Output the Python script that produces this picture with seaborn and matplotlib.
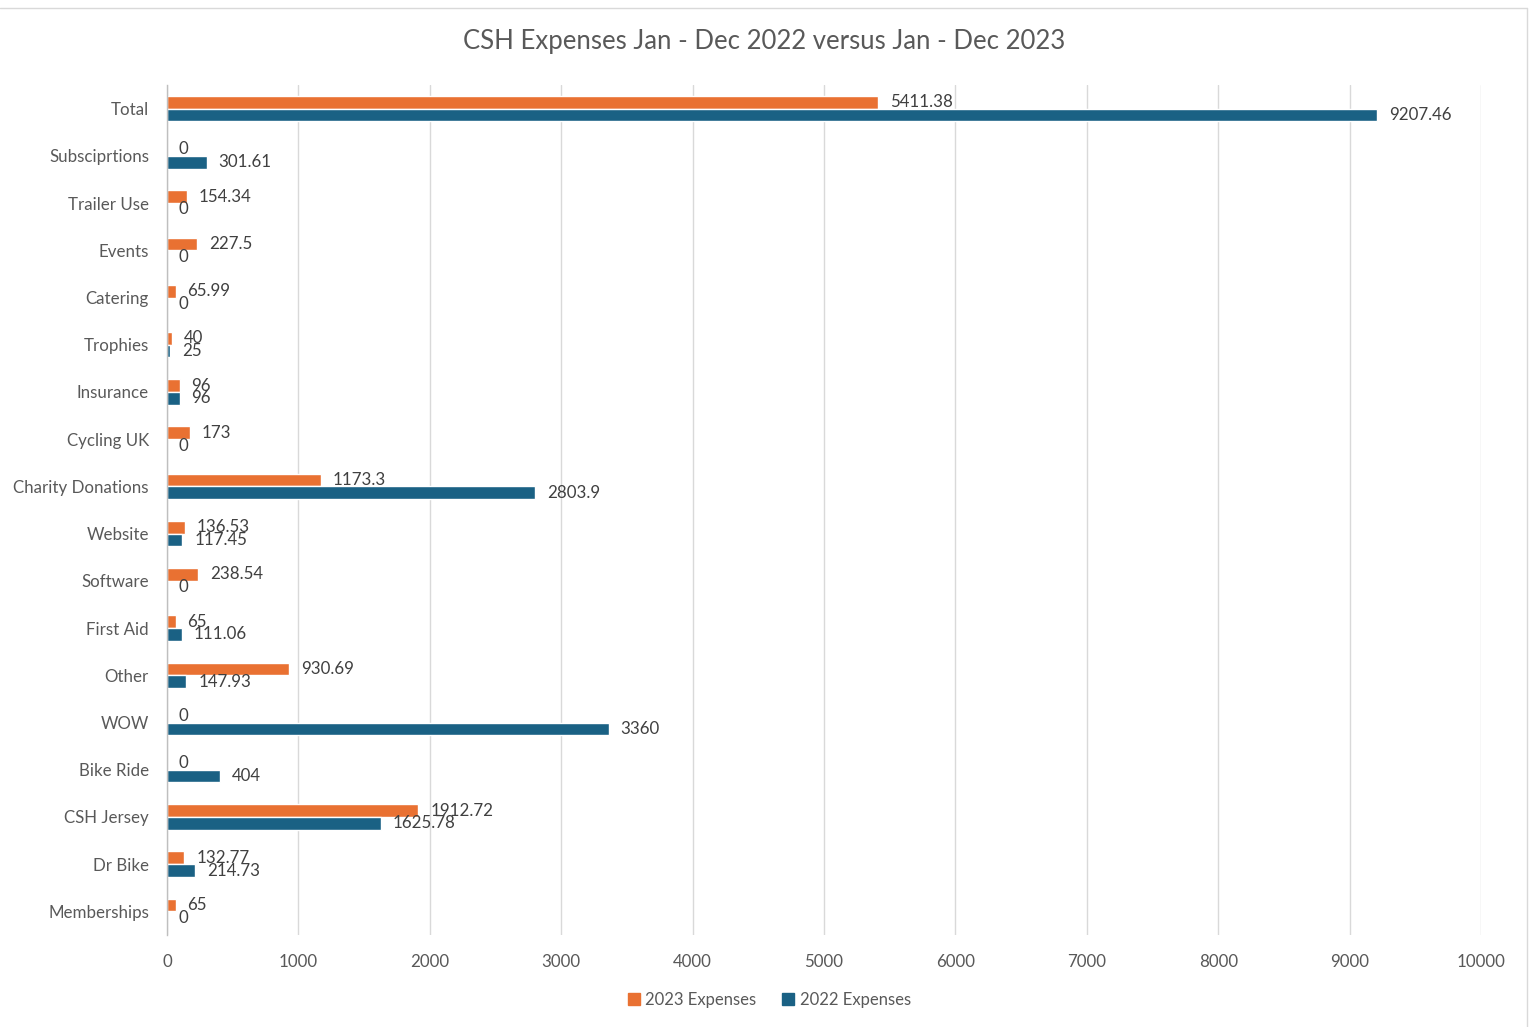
import matplotlib
matplotlib.use("Agg")
import matplotlib.pyplot as plt
import seaborn as sns
import pandas as pd
from matplotlib.lines import Line2D

categories = ["Total", "Subsciprtions", "Trailer Use", "Events", "Catering", "Trophies",
              "Insurance", "Cycling UK", "Charity Donations", "Website", "Software",
              "First Aid", "Other", "WOW", "Bike Ride", "CSH Jersey", "Dr Bike", "Memberships"]
exp_2023 = [5411.38, 0, 154.34, 227.5, 65.99, 40, 96, 173, 1173.3, 136.53, 238.54,
            65, 930.69, 0, 0, 1912.72, 132.77, 65]
exp_2022 = [9207.46, 301.61, 0, 0, 0, 25, 96, 0, 2803.9, 117.45, 0,
            111.06, 147.93, 3360, 404, 1625.78, 214.73, 0]
series_names = ["2023 Expenses", "2022 Expenses"]
colors = ["#E97132", "#1A6184"]
x_ticks = [0, 1000, 2000, 3000, 4000, 5000, 6000, 7000, 8000, 9000, 10000]

df = pd.DataFrame({
    "Category": categories * 2,
    "Value": exp_2023 + exp_2022,
    "Series": [series_names[0]] * len(categories) + [series_names[1]] * len(categories),
})

sns.set_theme(style="white")
plt.rcParams["font.family"] = ["Lato", "DejaVu Sans"]
txt = "#595959"

fig = plt.figure(figsize=(15.29, 10.27), dpi=100)
ax = fig.add_axes([167 / 1529, 1 - 935 / 1027, (1481 - 167) / 1529, (935 - 85) / 1027])

sns.barplot(data=df, x="Value", y="Category", hue="Series", hue_order=series_names,
            order=categories, palette=colors, orient="h", width=0.54, saturation=1,
            ax=ax, legend=False)

for cont in ax.containers:
    ax.bar_label(cont, labels=[f"{v:g}" for v in cont.datavalues], padding=8.5,
                 fontsize=12.2, color="#404040")

ax.set_xlim(0, 10000)
ax.set_xticks(x_ticks)
ax.set_xticklabels([str(t) for t in x_ticks])
ax.set_xlabel("")
ax.set_ylabel("")
ax.tick_params(axis="both", length=0, labelsize=12.2, labelcolor=txt)
ax.tick_params(axis="y", pad=13)
ax.tick_params(axis="x", pad=14)
ax.grid(axis="x", color="#D9D9D9", linewidth=1)
ax.set_axisbelow(True)
for s in ["top", "right", "bottom"]:
    ax.spines[s].set_visible(False)
ax.spines["left"].set_color("#BFBFBF")
ax.spines["left"].set_linewidth(1)

fig.text(764 / 1529, 1 - 41 / 1027, "CSH Expenses Jan - Dec 2022 versus Jan - Dec 2023",
         ha="center", va="center", fontsize=18.5, color=txt)

handles = [Line2D([], [], marker="s", linestyle="none", markersize=8,
                  markerfacecolor=c, markeredgecolor=c) for c in colors]
fig.legend(handles, series_names, loc="center", bbox_to_anchor=(768 / 1529, 1 - 1000 / 1027),
           ncol=2, frameon=False, fontsize=12, labelcolor=txt, handletextpad=0.2,
           columnspacing=1.4, handlelength=1.0)

# chart area border
fig.add_artist(Line2D([0, 1527 / 1529], [1 - 8 / 1027, 1 - 8 / 1027], color="#D9D9D9",
                      linewidth=1, transform=fig.transFigure))
fig.add_artist(Line2D([1527 / 1529, 1527 / 1529], [1 - 8 / 1027, 0], color="#D9D9D9",
                      linewidth=1, transform=fig.transFigure))

fig.savefig("out.png", dpi=100, facecolor="white")
